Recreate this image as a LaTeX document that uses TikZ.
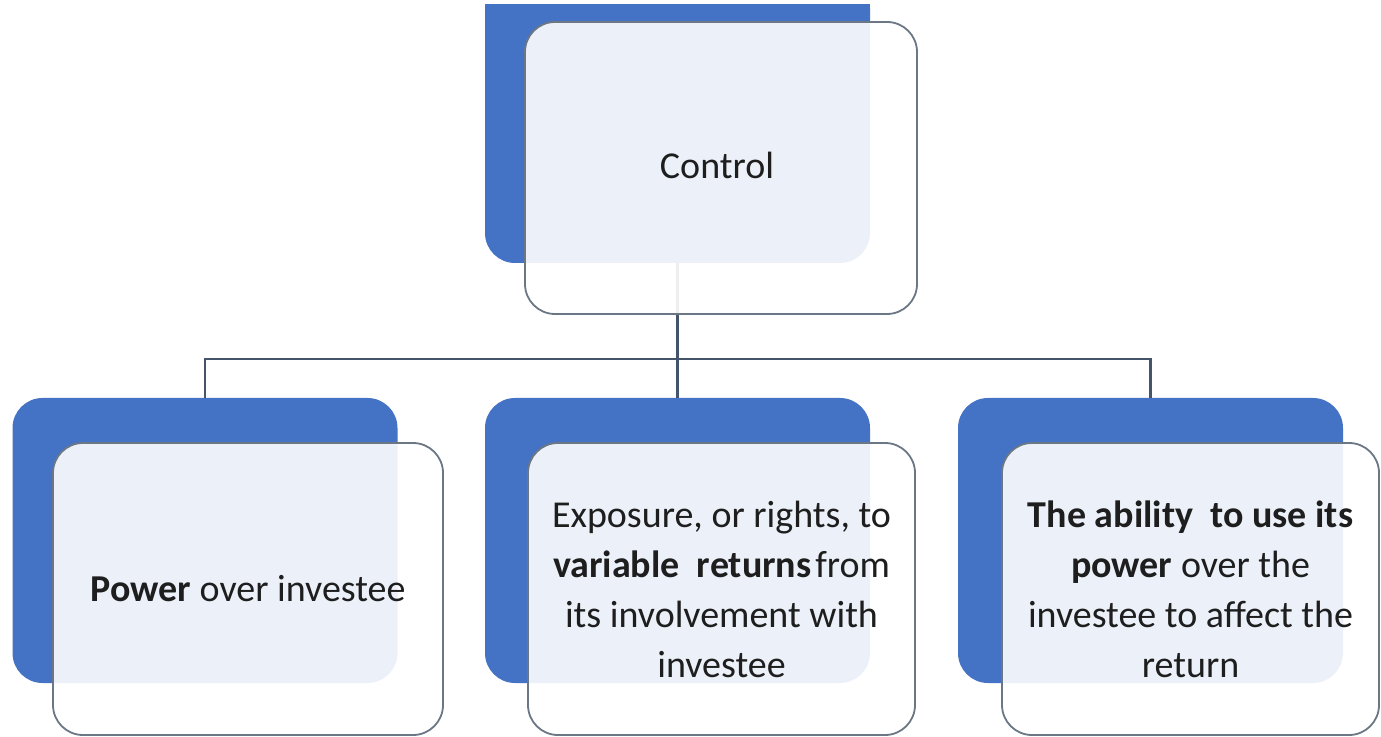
\documentclass[tikz,border=0pt]{standalone}
\usepackage{fontspec}
\setmainfont{Carlito}
\definecolor{accent}{HTML}{4472C4}
\definecolor{outline}{HTML}{6B7785}
\definecolor{connc}{HTML}{44546A}
\definecolor{txt}{HTML}{1E1E1E}
\begin{document}
\begin{tikzpicture}[x=0.5pt,y=-0.5pt,
  bluebox/.style={fill=accent, draw=none, rounded corners=15pt, inner sep=0pt,
    minimum width=192.5pt, minimum height=142.5pt},
  whitebox/.style={fill=white, fill opacity=0.9, text opacity=1, draw=outline,
    line width=0.9pt, rounded corners=15pt, inner sep=0pt, minimum height=146pt,
    align=center, font=\fontsize{19}{25}\selectfont, text=txt},
  conn/.style={draw=connc, line width=1.1pt}]
\useasboundingbox (0,0) rectangle (1381,737);
\begin{scope}
  \clip (0,5) rectangle (1381,737);
  \node[bluebox] (cb) at (677.5,120.5) {};
\end{scope}
\node[bluebox] (pb) at (205,540.5) {};
\node[bluebox] (eb) at (677.5,540.5) {};
\node[bluebox] (ab) at (1150.5,540.5) {};
\coordinate (bar) at (677.5,359);
\draw[conn] (cb.south) -- (bar);
\draw[conn] (bar) -| (pb.north);
\draw[conn] (bar) -- (eb.north);
\draw[conn] (bar) -| (ab.north);
\node[whitebox, minimum width=196pt] (c) at (721,168) {\raisebox{2.5pt}{Control}\hspace{4pt}};
\node[whitebox, minimum width=195pt] (p) at (248,589) {\textbf{Power} over investee};
\node[whitebox, minimum width=193.5pt] (e) at (721.5,589)
  {Exposure, or rights, to\\\textbf{variable\ \ returns}\hspace{0.1em}from\\its involvement with\\investee};
\node[whitebox, minimum width=188.5pt] (a) at (1190.5,589)
  {\textbf{The ability\ \ to use its}\\\textbf{power} over the\\investee to affect the\\return};
\end{tikzpicture}
\end{document}
